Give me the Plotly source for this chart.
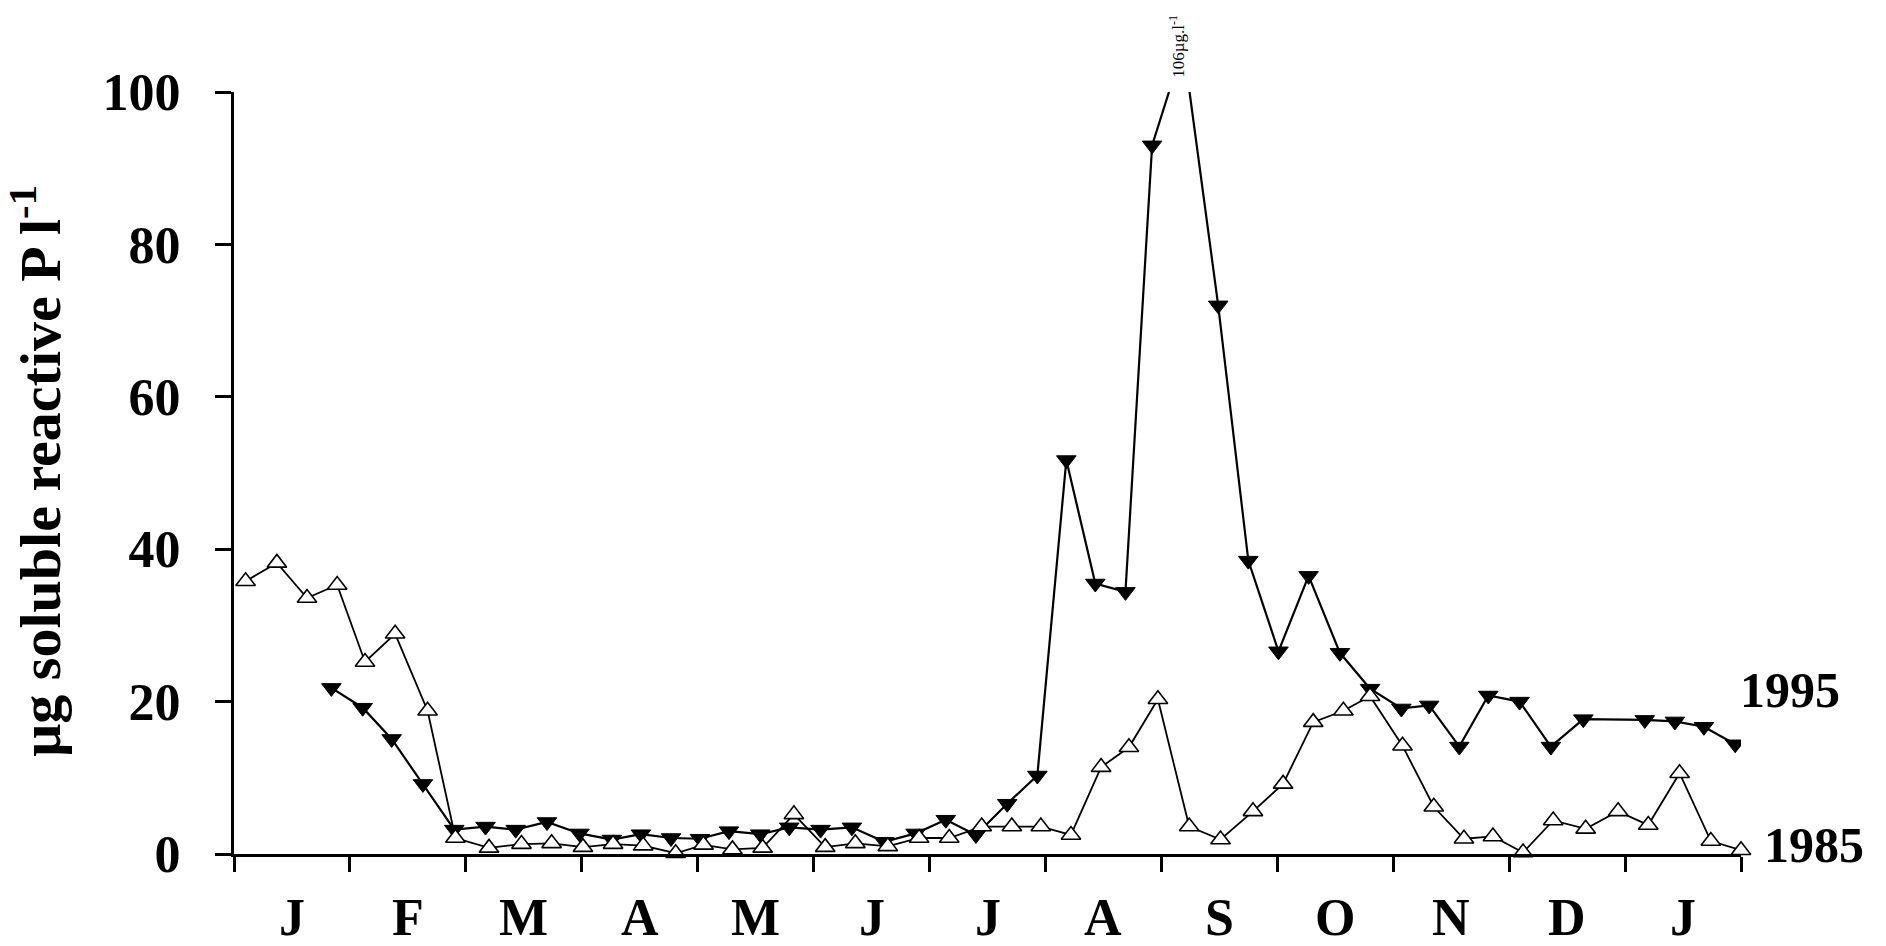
import plotly.graph_objects as go

# ---------------- data ----------------
month_labels = ["J", "F", "M", "A", "M", "J", "J", "A", "S", "O", "N", "D", "J"]
month_edges = list(range(14))
month_mids = [i + 0.5 for i in range(13)]

x_1985 = [0.10, 0.37, 0.63, 0.89, 1.13, 1.39, 1.67, 1.91, 2.20, 2.48, 2.74, 3.01, 3.27,
          3.53, 3.81, 4.05, 4.30, 4.56, 4.83, 5.10, 5.36, 5.64, 5.91, 6.17, 6.45, 6.71,
          6.96, 7.22, 7.48, 7.72, 7.97, 8.24, 8.51, 8.79, 9.05, 9.31, 9.57, 9.80, 10.08,
          10.35, 10.61, 10.86, 11.12, 11.38, 11.66, 11.94, 12.20, 12.47, 12.74, 13.0]
y_1985 = [35.8, 38.2, 33.6, 35.3, 25.2, 28.9, 18.8, 2.1, 0.8, 1.3, 1.4, 0.9, 1.3,
          1.1, 0.1, 1.2, 0.6, 0.8, 5.2, 0.9, 1.4, 1.0, 2.1, 2.1, 3.6, 3.6,
          3.6, 2.5, 11.4, 14.0, 20.3, 3.6, 1.9, 5.6, 9.2, 17.3, 18.8, 20.7, 14.2,
          6.2, 2.0, 2.3, 0.2, 4.4, 3.3, 5.6, 3.8, 10.6, 1.7, 0.5]

x_1995 = [0.84, 1.11, 1.36, 1.63, 1.90, 2.17, 2.43, 2.70, 2.98, 3.26, 3.51, 3.77, 4.02,
          4.27, 4.54, 4.79, 5.06, 5.33, 5.61, 5.88, 6.14, 6.40, 6.67, 6.93, 7.18, 7.43,
          7.69, 7.92, 8.19, 8.49, 8.75, 9.01, 9.27, 9.54, 9.80, 10.07, 10.31, 10.57,
          10.82, 11.09, 11.36, 11.64, 12.17, 12.43, 12.68, 12.95]
y_1995 = [21.8, 19.2, 15.1, 9.2, 3.2, 3.6, 3.2, 4.2, 2.7, 1.9, 2.6, 2.1, 2.0,
          3.0, 2.6, 3.5, 3.2, 3.5, 1.6, 2.7, 4.5, 2.5, 6.6, 10.3, 51.7, 35.5,
          34.4, 93.0, 106.0, 72.0, 38.5, 26.6, 36.5, 26.4, 21.7, 19.1, 19.5, 14.1,
          20.8, 20.0, 14.1, 17.7, 17.6, 17.4, 16.7, 14.4]

y_ticks = [0, 20, 40, 60, 80, 100]
y_max = 100
peak_label = "106\u00b5g.l<sup>-1</sup>"
y_title = "\u00b5g soluble reactive P l<sup>-1</sup>"
series_labels = ["1995", "1985"]

FONT = "Liberation Serif, Times New Roman, serif"

fig = go.Figure()

fig.add_trace(go.Scatter(
    x=x_1995, y=y_1995, mode="lines+markers", name="1995",
    line=dict(color="black", width=2.2),
    marker=dict(symbol="triangle-down", size=17, color="black",
                line=dict(color="black", width=1)),
    showlegend=False, cliponaxis=True, hoverinfo="skip"))

fig.add_trace(go.Scatter(
    x=x_1985, y=y_1985, mode="lines+markers", name="1985",
    line=dict(color="black", width=1.8),
    marker=dict(symbol="triangle-up", size=17, color="white",
                line=dict(color="black", width=1.6)),
    showlegend=False, cliponaxis=False, hoverinfo="skip"))

fig.update_layout(
    width=1886, height=946,
    margin=dict(l=234, r=145, t=92, b=92),
    paper_bgcolor="white", plot_bgcolor="white",
    showlegend=False,
    xaxis=dict(range=[0, 13], tickvals=month_edges, showticklabels=False,
               ticks="outside", ticklen=15, tickwidth=2.5, tickcolor="black",
               showline=True, linecolor="black", linewidth=3,
               showgrid=False, zeroline=False),
    yaxis=dict(range=[0, y_max], tickvals=y_ticks,
               ticks="outside", ticklen=16, tickwidth=2.5, tickcolor="black",
               showline=True, linecolor="black", linewidth=3,
               showgrid=False, zeroline=False,
               tickfont=dict(family=FONT, size=52, color="black", weight="bold"),
               ticklabelstandoff=24),
)

# month labels centred in each month
for xm, lab in zip(month_mids, month_labels):
    fig.add_annotation(text=lab, xref="x", yref="paper", x=xm, y=0, yshift=-63,
                       showarrow=False, xanchor="center", yanchor="middle",
                       font=dict(family=FONT, size=52, color="black", weight="bold"))

fig.add_annotation(text=y_title, xref="paper", yref="paper", x=-0.131, y=0.502,
                   textangle=-90, showarrow=False, xanchor="center", yanchor="middle",
                   font=dict(family=FONT, size=58, color="black", weight="bold"))
# series labels at the right-hand end of the axis
fig.add_annotation(text=series_labels[0], xref="x", yref="y", x=13, y=21.5, xshift=49,
                   showarrow=False, xanchor="center", yanchor="middle",
                   font=dict(family=FONT, size=50, color="black", weight="bold"))
fig.add_annotation(text=series_labels[1], xref="x", yref="y", x=13, y=1.2, xshift=73,
                   showarrow=False, xanchor="center", yanchor="middle",
                   font=dict(family=FONT, size=50, color="black", weight="bold"))
# off-scale peak label
fig.add_annotation(text=peak_label, xref="x", yref="y", x=x_1995[28], y=y_max,
                   xshift=-6, yshift=(y_1995[28] - y_max) * 7.62, textangle=-90,
                   showarrow=False, xanchor="center", yanchor="middle",
                   font=dict(family=FONT, size=17, color="black"))

fig.write_html("out.html", config={"displayModeBar": False},
               post_script="document.body.style.margin='0';document.body.style.overflow='hidden';")
